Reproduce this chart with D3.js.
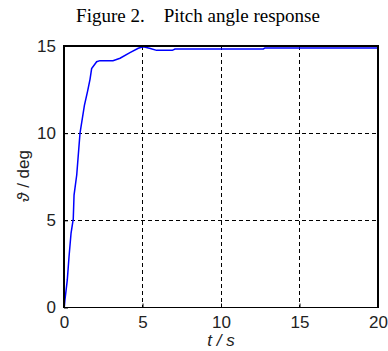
<!DOCTYPE html>
<html><head><meta charset="utf-8">
<script src="https://cdn.jsdelivr.net/npm/d3@7"></script>
<style>body{margin:0;background:#fff}svg{display:block}</style>
</head><body>
<script>
const tValues = [0, 0.02, 0.06, 0.21, 0.32, 0.45, 0.59, 0.64, 0.81, 1.02, 1.3, 1.5, 1.66, 1.76, 2.08, 2.29, 3.12, 3.57, 4.2, 4.73, 5.05, 5.5, 5.9, 6.9, 7.07, 12.7, 12.8, 20];
const thetaValues = [0, 0.03, 0.43, 1.58, 2.91, 4.27, 5.08, 6.45, 7.6, 10.0, 11.6, 12.4, 13.1, 13.7, 14.1, 14.16, 14.16, 14.3, 14.62, 14.87, 14.95, 14.86, 14.75, 14.75, 14.83, 14.83, 14.89, 14.89];
const xTicks = [0, 5, 10, 15, 20];
const yTicks = [0, 5, 10, 15];
const titleText = "Figure 2.\u2002\u2002Pitch angle response";

const W = 388, H = 351;
const m = {left: 64, top: 46, right: 378, bottom: 307.5};
const svg = d3.select("body").append("svg").attr("width", W).attr("height", H);
const x = d3.scaleLinear().domain([0, 20]).range([m.left, m.right]);
const y = d3.scaleLinear().domain([0, 15]).range([m.bottom, m.top]);

// grid
svg.append("g").selectAll("line").data(xTicks.filter(d => d > 0 && d < 20)).join("line")
  .attr("x1", d => x(d)).attr("x2", d => x(d)).attr("y1", m.top).attr("y2", m.bottom)
  .attr("stroke", "#000").attr("stroke-width", 1).attr("stroke-dasharray", "4,3").attr("shape-rendering", "crispEdges");
svg.append("g").selectAll("line").data(yTicks.filter(d => d > 0 && d < 15)).join("line")
  .attr("y1", d => y(d)).attr("y2", d => y(d)).attr("x1", m.left).attr("x2", m.right)
  .attr("stroke", "#000").attr("stroke-width", 1).attr("stroke-dasharray", "4,3").attr("shape-rendering", "crispEdges");

// line
const line = d3.line().x((d, i) => x(tValues[i])).y(d => y(d));
svg.append("path").datum(thetaValues).attr("d", line)
  .attr("fill", "none").attr("stroke", "#0000ff").attr("stroke-width", 1.5);

// box
svg.append("rect").attr("x", m.left).attr("y", m.top).attr("width", m.right - m.left).attr("height", m.bottom - m.top)
  .attr("fill", "none").attr("stroke", "#000").attr("stroke-width", 1.3).attr("shape-rendering", "crispEdges");

// axes (ticks inside, labels)
const xAxis = d3.axisBottom(x).tickValues(xTicks).tickSize(-4).tickPadding(8).tickFormat(d3.format("d"));
const yAxis = d3.axisLeft(y).tickValues(yTicks).tickSize(-4).tickPadding(8).tickFormat(d3.format("d"));
const gx = svg.append("g").attr("transform", `translate(0,${m.bottom})`).call(xAxis);
const gy = svg.append("g").attr("transform", `translate(${m.left},0)`).call(yAxis);
[gx, gy].forEach(g => {
  g.select(".domain").remove();
  g.selectAll("line").attr("stroke", "#000");
  g.selectAll("text").attr("font-family", "'Liberation Sans', Arial, sans-serif").attr("font-size", 17).attr("fill", "#222");
});
gx.selectAll("text").attr("dy", "0.71em");

// title
svg.append("text").attr("x", 198).attr("y", 22).attr("text-anchor", "middle")
  .attr("font-family", "'Liberation Serif', 'Times New Roman', serif").attr("font-size", 19).text(titleText);

// x label
svg.append("text").attr("x", 221).attr("y", 346).attr("text-anchor", "middle")
  .attr("font-family", "'Liberation Sans', Arial, sans-serif").attr("font-size", 17).attr("font-style", "italic").attr("fill", "#222")
  .text("t / s");

// y label
svg.append("text").attr("transform", "translate(29,176) rotate(-90)").attr("text-anchor", "middle")
  .attr("font-family", "'Liberation Sans', Arial, sans-serif").attr("font-size", 17).attr("fill", "#222")
  .html('<tspan font-style="italic">\u03D1</tspan> / deg');
</script>
</body></html>
